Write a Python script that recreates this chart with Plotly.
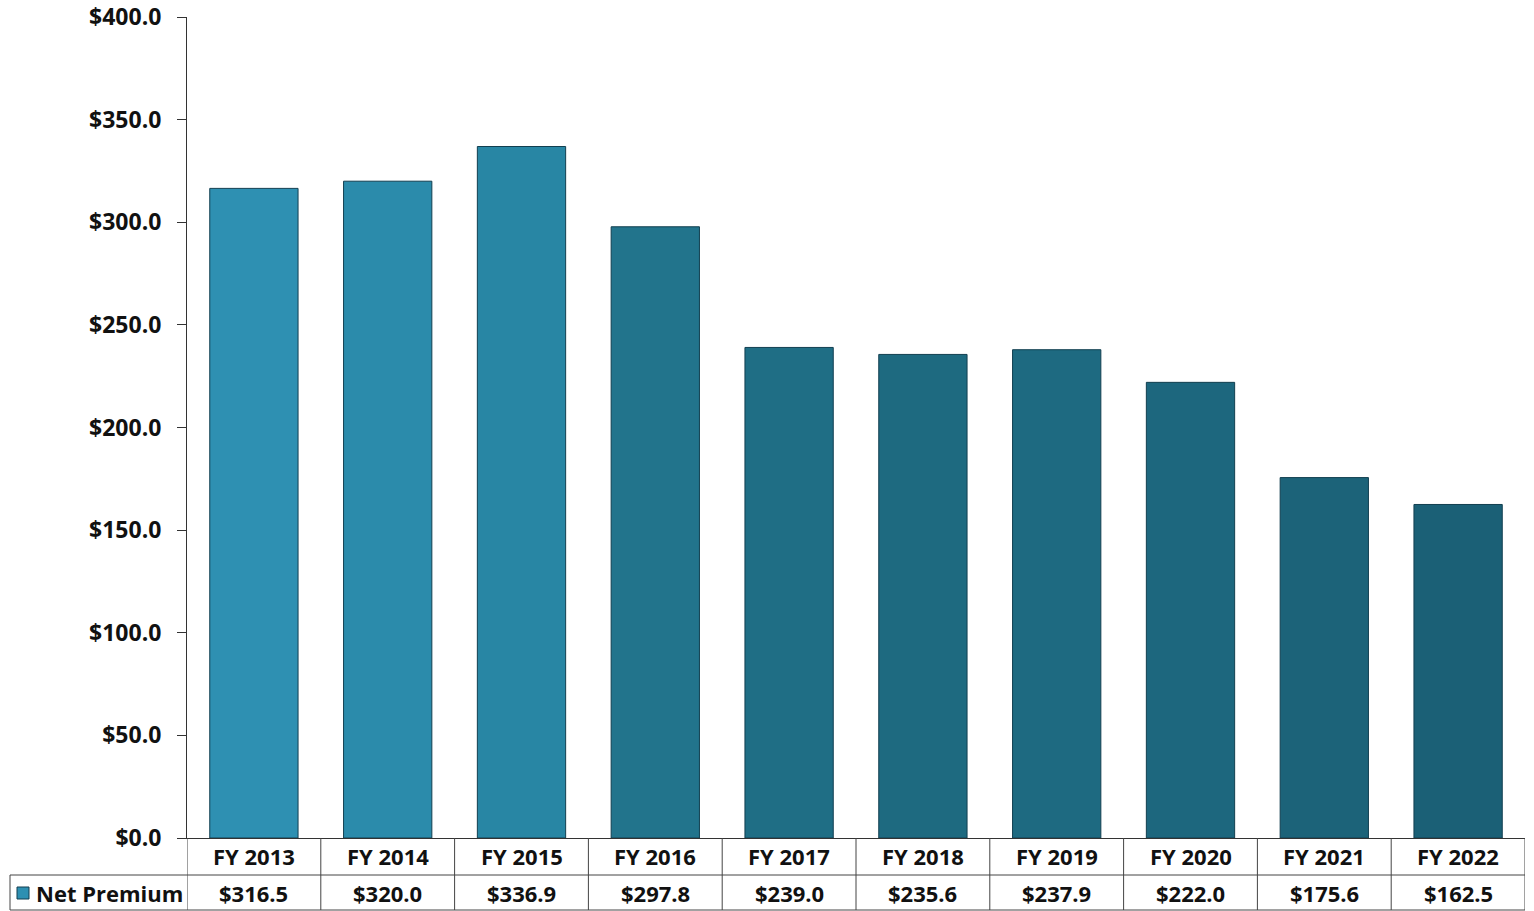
import plotly.graph_objects as go

# Net premium by fiscal year ($ millions)
years = ["FY 2013", "FY 2014", "FY 2015", "FY 2016", "FY 2017",
         "FY 2018", "FY 2019", "FY 2020", "FY 2021", "FY 2022"]
net_premium = [316.5, 320.0, 336.9, 297.8, 239.0, 235.6, 237.9, 222.0, 175.6, 162.5]
series_name = "Net Premium"

# Teal shading, lighter on the early bars
bar_colors = ["#2e90b2", "#2b8bab", "#2886a4", "#22748c", "#1f6e85",
              "#1e6a80", "#1e6a81", "#1d677e", "#1c6379", "#1b6076"]

FONT = "Open Sans"
TXT = "#111111"

# pixel geometry of the plot area (used to place the data table below it)
W, H = 1338, 821
row_mid = -37 / H
row_bot = -72 / H
left_edge = (10 - 187) / W

fig = go.Figure()
fig.add_trace(go.Bar(
    x=years, y=net_premium, name=series_name,
    marker=dict(color=bar_colors, line=dict(color="#123f50", width=1)),
    width=0.66, showlegend=False,
))

shapes = []
# vertical cell borders of the data table
for i in range(len(years) + 1):
    shapes.append(dict(type="line", xref="x", yref="paper",
                       x0=i - 0.5, x1=i - 0.5, y0=0, y1=row_bot,
                       line=dict(color="#444444", width=1)))
# horizontal borders
for yy in (row_mid, row_bot):
    shapes.append(dict(type="line", xref="paper", yref="paper",
                       x0=left_edge, x1=1, y0=yy, y1=yy,
                       line=dict(color="#444444", width=1)))
# left border of the series-name cell
shapes.append(dict(type="line", xref="paper", yref="paper",
                   x0=left_edge, x1=left_edge, y0=row_mid, y1=row_bot,
                   line=dict(color="#444444", width=1)))
# legend swatch
shapes.append(dict(type="rect", xref="paper", yref="paper",
                   x0=(17 - 187) / W, x1=(29 - 187) / W,
                   y0=(838 - 887) / H, y1=(838 - 899) / H,
                   fillcolor=bar_colors[0], line=dict(color="#123f50", width=1)))

annotations = []
for yr, v in zip(years, net_premium):
    annotations.append(dict(x=yr, xref="x", y=row_mid / 2, yref="paper",
                            text=yr, showarrow=False, xanchor="center", yanchor="middle",
                            font=dict(family=FONT, size=22, color=TXT, weight="bold")))
    annotations.append(dict(x=yr, xref="x", y=(row_mid + row_bot) / 2, yref="paper",
                            text=f"${v:.1f}", showarrow=False, xanchor="center", yanchor="middle",
                            font=dict(family=FONT, size=22, color=TXT, weight="bold")))
annotations.append(dict(x=(34 - 187) / W, xref="paper", y=(row_mid + row_bot) / 2, yref="paper",
                        text=series_name, showarrow=False, xanchor="left", yanchor="middle",
                        font=dict(family=FONT, size=22, color=TXT, weight="bold")))

fig.update_layout(
    width=1534, height=911,
    margin=dict(l=187, r=9, t=17, b=73, autoexpand=False),
    paper_bgcolor="white", plot_bgcolor="white",
    bargap=0.34,
    shapes=shapes, annotations=annotations,
    xaxis=dict(range=[-0.5, len(years) - 0.5], showticklabels=False, ticks="",
               showline=True, linecolor="#333333", linewidth=1, showgrid=False,
               zeroline=False, fixedrange=True, automargin=False),
    yaxis=dict(range=[0, 400], dtick=50, tickprefix="$", tickformat=".1f",
               ticks="outside", ticklen=9, tickcolor="#333333", tickwidth=1,
               showline=True, linecolor="#333333", linewidth=1, showgrid=False,
               zeroline=False, ticklabelstandoff=11, automargin=False,
               tickfont=dict(family=FONT, size=23, color=TXT, weight="bold")),
)

fig.write_html("out.html", config={"displayModeBar": False})
